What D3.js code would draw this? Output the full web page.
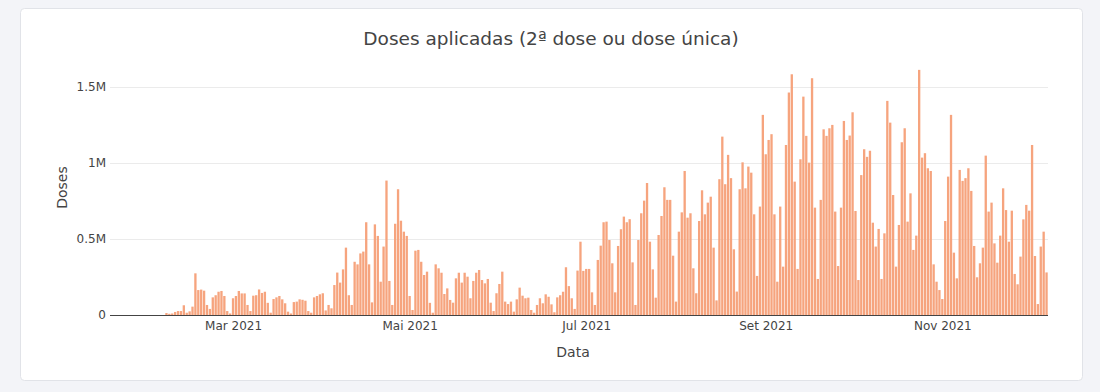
<!DOCTYPE html>
<html>
<head>
<meta charset="utf-8">
<script src="https://cdn.jsdelivr.net/npm/d3@7"></script>
<style>
  body { margin: 0; background: #f3f4f8; }
  svg { display: block; font-family: "DejaVu Sans", Verdana, sans-serif; }
</style>
</head>
<body>
<svg id="chart"></svg>
<script>
// daily doses (2nd dose or single dose), starting 2021-01-18
const startDate = "2021-01-18";
const doses = [
  0, 0, 0, 0, 0, 0, 0, 0, 0, 0, 0, 0, 0, 0, 0, 0, 0, 0, 0,
  13000, 8000, 10000, 20000, 26000, 26000, 64000, 15000, 24000, 55000,
  274000, 164000, 167000, 160000, 66000, 40000, 116000,
  130000, 153000, 158000, 125000, 26000, 10000, 110000,
  125000, 158000, 142000, 142000, 66000, 26000, 127000,
  130000, 168000, 145000, 153000, 80000, 15000, 105000,
  116000, 125000, 103000, 77000, 22000, 10000, 85000,
  88000, 103000, 100000, 94000, 26000, 15000, 116000,
  125000, 136000, 143000, 30000, 66000, 44000, 197000,
  279000, 213000, 300000, 443000, 130000, 66000, 350000,
  333000, 405000, 417000, 610000, 333000, 83000, 596000,
  520000, 219000, 450000, 884000, 224000, 66000, 600000,
  827000, 620000, 548000, 520000, 125000, 33000, 423000,
  428000, 350000, 263000, 285000, 80000, 15000, 333000,
  307000, 278000, 138000, 175000, 99000, 81000, 241000,
  278000, 213000, 278000, 252000, 110000, 224000, 278000,
  296000, 230000, 208000, 237000, 81000, 26000, 143000,
  204000, 285000, 88000, 72000, 88000, 22000, 103000,
  180000, 127000, 110000, 114000, 33000, 15000, 66000,
  110000, 77000, 136000, 120000, 70000, 18000, 116000,
  130000, 153000, 314000, 190000, 110000, 40000, 292000,
  482000, 290000, 303000, 303000, 149000, 66000, 362000,
  456000, 610000, 614000, 493000, 340000, 149000, 454000,
  564000, 647000, 610000, 630000, 346000, 66000, 493000,
  669000, 752000, 868000, 482000, 300000, 114000, 526000,
  651000, 840000, 757000, 757000, 390000, 88000, 548000,
  675000, 947000, 640000, 669000, 307000, 143000, 618000,
  820000, 662000, 739000, 778000, 443000, 96000, 893000,
  1173000, 860000, 1053000, 900000, 432000, 154000, 827000,
  1004000, 833000, 976000, 936000, 662000, 257000, 713000,
  1316000, 1057000, 1151000, 1189000, 662000, 219000, 713000,
  318000, 1118000, 1463000, 1583000, 877000, 303000, 1024000,
  1436000, 1178000, 1002000, 1557000, 706000, 237000, 757000,
  1221000, 1178000, 1228000, 1250000, 680000, 322000, 706000,
  1276000, 1151000, 1180000, 1333000, 684000, 230000, 920000,
  1090000, 1040000, 1080000, 607000, 450000, 566000, 237000,
  537000, 1408000, 1265000, 789000, 318000, 592000, 1136000,
  1228000, 614000, 800000, 428000, 522000, 1612000, 1035000,
  1064000, 965000, 947000, 333000, 219000, 164000, 105000,
  618000, 910000, 1316000, 410000, 241000, 954000, 882000,
  900000, 965000, 816000, 454000, 248000, 340000, 443000,
  1048000, 680000, 739000, 471000, 344000, 522000, 833000,
  690000, 482000, 686000, 270000, 202000, 384000, 629000,
  724000, 686000, 1118000, 388000, 72000, 450000, 548000,
  280000
];
const yTicks = [0, 500000, 1000000, 1500000];
const monthNames = ["Jan", "Fev", "Mar", "Abr", "Mai", "Jun", "Jul", "Ago", "Set", "Out", "Nov", "Dez"];

const W = 1100, H = 392;
const margin = { top: 58, right: 52, bottom: 77, left: 110 };
const day = 864e5;

const parse = d3.utcParse("%Y-%m-%d");
const t0 = parse(startDate);
const data = doses.map((v, i) => ({ date: new Date(t0.getTime() + i * day), value: v }));

const svg = d3.select("#chart").attr("width", W).attr("height", H);

// card
svg.append("rect")
  .attr("x", 20.5).attr("y", 8.5)
  .attr("width", 1062).attr("height", 372)
  .attr("rx", 4)
  .attr("fill", "#fff")
  .attr("stroke", "#e1e3e8");

const x = d3.scaleUtc()
  .domain([new Date(t0.getTime() - day / 2), new Date(data[data.length - 1].date.getTime() + day / 2)])
  .range([margin.left, W - margin.right]);

const y = d3.scaleLinear()
  .domain([0, 1690000])
  .range([H - margin.bottom, margin.top]);

const bw = (x(new Date(t0.getTime() + day)) - x(t0)) * 0.8;

// gridlines
svg.append("g")
  .selectAll("line")
  .data(yTicks.filter(d => d > 0))
  .join("line")
  .attr("x1", margin.left).attr("x2", W - margin.right)
  .attr("y1", d => Math.round(y(d)) + 0.5).attr("y2", d => Math.round(y(d)) + 0.5)
  .attr("stroke", "#ebebeb");

// bars
svg.append("g")
  .selectAll("rect")
  .data(data.filter(d => d.value > 0))
  .join("rect")
  .attr("x", d => x(d.date) - bw / 2)
  .attr("y", d => y(d.value))
  .attr("width", bw)
  .attr("height", d => y(0) - y(d.value))
  .attr("fill", "#f6a47e");

// zero line
svg.append("line")
  .attr("x1", margin.left).attr("x2", W - margin.right)
  .attr("y1", Math.round(y(0)) + 0.5).attr("y2", Math.round(y(0)) + 0.5)
  .attr("stroke", "#444");

// y axis
const fmtY = d => d === 0 ? "0" : (d / 1e6) + "M";
const yAxis = svg.append("g")
  .attr("transform", `translate(${margin.left},0)`)
  .call(d3.axisLeft(y).tickValues(yTicks).tickSize(0).tickPadding(4).tickFormat(fmtY));
yAxis.select(".domain").remove();
yAxis.selectAll("text").attr("fill", "#444").style("font-size", "12px").style("font-family", "DejaVu Sans");

// x axis
const xTicks = d3.utcMonth.every(2).range(parse("2021-03-01"), parse("2021-12-01"));
const xAxis = svg.append("g")
  .attr("transform", `translate(0,${H - margin.bottom})`)
  .call(d3.axisBottom(x).tickValues(xTicks).tickSize(0).tickPadding(6)
    .tickFormat(d => monthNames[d.getUTCMonth()] + " " + d.getUTCFullYear()));
xAxis.select(".domain").remove();
xAxis.selectAll("text").attr("fill", "#444").style("font-size", "12px").style("font-family", "DejaVu Sans");

// titles
svg.append("text")
  .attr("x", 551).attr("y", 45)
  .attr("text-anchor", "middle")
  .attr("fill", "#444")
  .style("font-size", "18.5px")
  .text("Doses aplicadas (2ª dose ou dose única)");

svg.append("text")
  .attr("x", (margin.left + W - margin.right) / 2 - 6).attr("y", 357)
  .attr("text-anchor", "middle")
  .attr("fill", "#444")
  .style("font-size", "14px")
  .text("Data");

svg.append("text")
  .attr("transform", `translate(67,${(margin.top + H - margin.bottom) / 2 + 1}) rotate(-90)`)
  .attr("text-anchor", "middle")
  .attr("fill", "#444")
  .style("font-size", "14px")
  .text("Doses");
</script>
</body>
</html>
